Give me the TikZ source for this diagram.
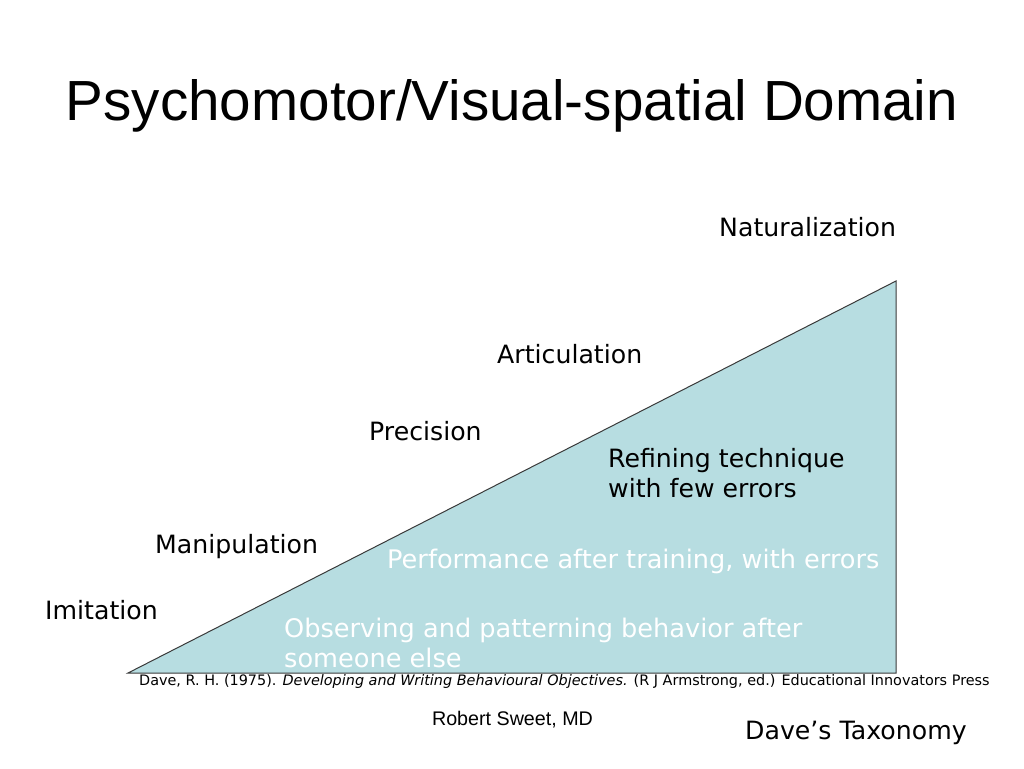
\documentclass[tikz,border=0pt]{standalone}
\usepackage{fontspec}
\setmainfont{DejaVu Sans}
\newfontfamily\arialfont{Liberation Sans}
\definecolor{trifill}{HTML}{B7DDE1}
\definecolor{triedge}{HTML}{3A3A3A}
\begin{document}
\begin{tikzpicture}[x=1pt,y=-1pt,
  lbl/.style={anchor=base west,inner sep=0pt,font=\fontsize{25.2}{30}\selectfont,text=black},
  wlbl/.style={lbl,font=\fontsize{25.6}{30}\selectfont,text=white}]
\useasboundingbox (0,0) rectangle (1024,768);
\fill[white] (0,0) rectangle (1024,768);
% triangle
\coordinate (bl) at (128,673);
\coordinate (tr) at (896,281);
\coordinate (br) at (896,673);
\fill[trifill] (bl) -- (tr) -- (br) -- cycle;
\draw[triedge,line width=1pt,line join=miter] (bl) -- (tr) -- (br) -- cycle;
% title
\node[anchor=base,inner sep=0pt,font=\arialfont\fontsize{56.6}{60}\selectfont] (title) at (512,120) {Psychomotor/Visual-spatial Domain};
% level labels
\node[lbl] (nat) at (719,236) {Naturalization};
\node[lbl] (art) at (497,363) {Articulation};
\node[lbl] (pre) at (369,440) {Precision};
\node[lbl] (man) at (155,553) {Manipulation};
\node[lbl] (imi) at (45,619) {Imitation};
% descriptions
\node[lbl] (ref1) at (608,467) {Refining technique};
\node[lbl] (ref2) at (608,497) {with few errors};
\node[wlbl] (perf) at (387,568) {Performance after training, with errors};
\node[wlbl] (obs1) at (284,637) {Observing and patterning behavior after};
\node[wlbl] (obs2) at (284,667) {someone else};
% reference
\node[anchor=base west,inner sep=0pt,font=\fontsize{14.4}{16}\selectfont] (cite) at (139,685) {Dave, R. H. (1975). \textit{Developing and Writing Behavioural Objectives.} (R J Armstrong, ed.) Educational Innovators Press};
\node[anchor=base,inner sep=0pt,font=\arialfont\fontsize{19.7}{22}\selectfont] (auth) at (512.5,725) {Robert Sweet, MD};
\node[lbl] (tax) at (745,739) {Dave’s Taxonomy};
\end{tikzpicture}
\end{document}
